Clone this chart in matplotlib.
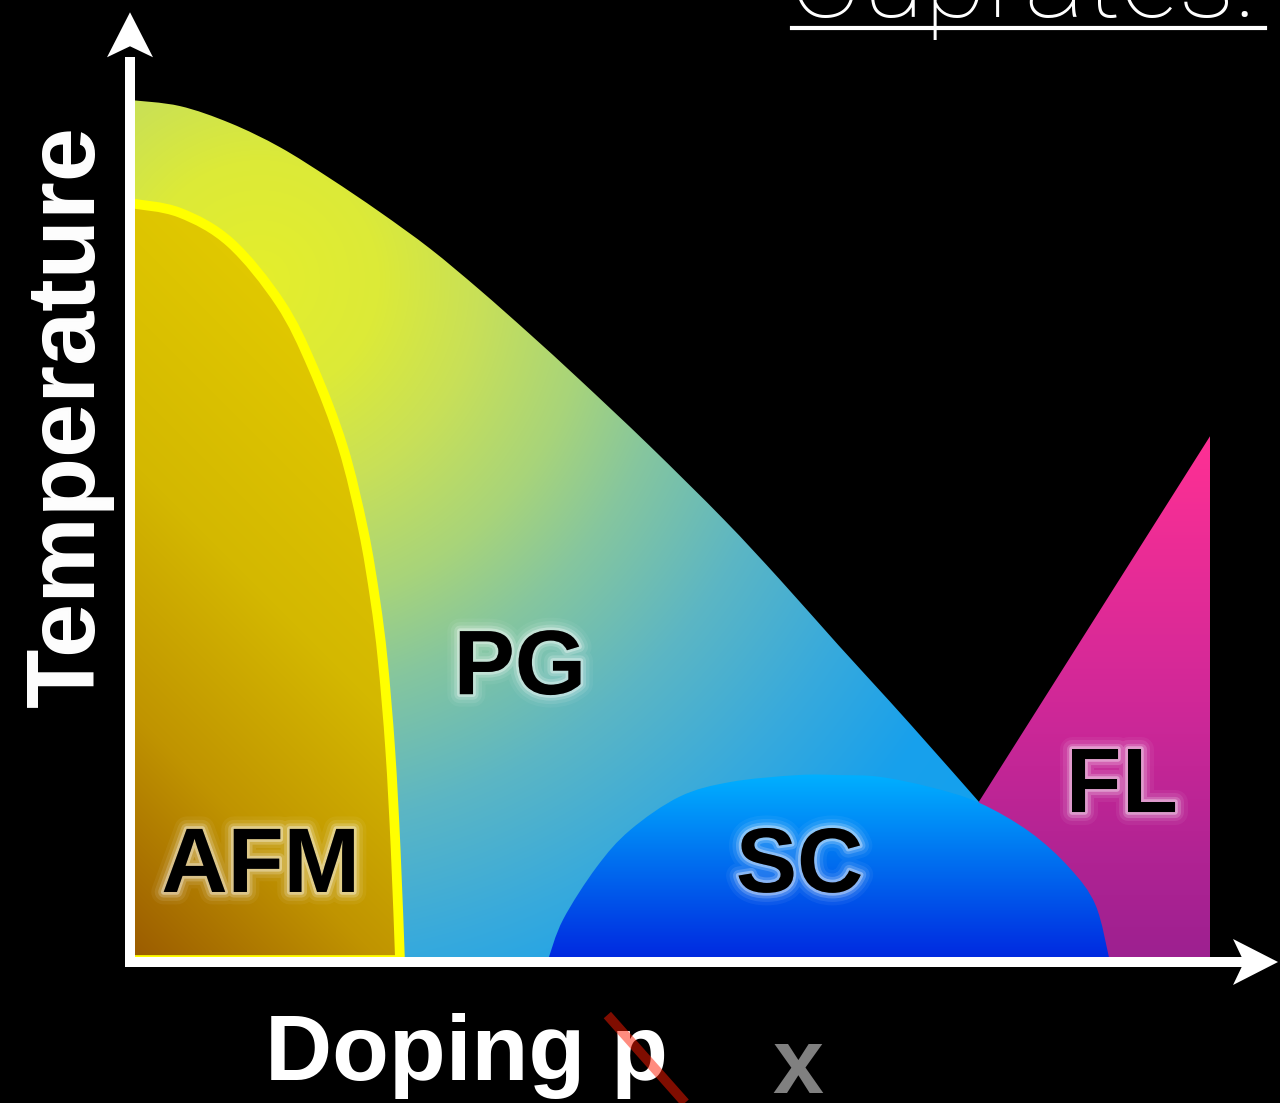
import numpy as np
import matplotlib
matplotlib.use("Agg")
import matplotlib.pyplot as plt
import matplotlib.patheffects as pe
from matplotlib.patches import Polygon, PathPatch
from matplotlib.path import Path
from matplotlib.colors import to_rgb

# --- phase boundaries (doping p, temperature T) ---
pg_p = [0.0, 0.046, 0.093, 0.139, 0.185, 0.231, 0.278, 0.324, 0.370, 0.417,
        0.481, 0.550, 0.602, 0.656, 0.704, 0.741, 0.786, 0.843, 0.898]
pg_t = [1.000, 0.993, 0.973, 0.945, 0.909, 0.870, 0.827, 0.779, 0.728, 0.674,
        0.598, 0.512, 0.442, 0.366, 0.300, 0.248, 0.184, 0.102, 0.0]

afm_p = [0.0, 0.046, 0.093, 0.139, 0.169, 0.197, 0.216, 0.227, 0.234, 0.241, 0.246, 0.250]
afm_t = [0.880, 0.869, 0.834, 0.764, 0.690, 0.597, 0.500, 0.419, 0.349, 0.244, 0.128, 0.0]

sc_p = [0.387, 0.401, 0.432, 0.463, 0.509, 0.556, 0.618, 0.657, 0.694, 0.741,
        0.786, 0.833, 0.870, 0.894, 0.907]
sc_t = [0.0, 0.047, 0.108, 0.151, 0.190, 0.207, 0.215, 0.215, 0.213, 0.201,
        0.183, 0.149, 0.107, 0.064, 0.0]

fl_p = [0.786, 1.0, 1.0, 0.786]
fl_t = [0.184, 0.609, 0.0, 0.0]

labels = ["AFM", "PG", "SC", "FL"]
label_p = [0.121, 0.361, 0.620, 0.918]
label_t = [0.107, 0.337, 0.107, 0.200]

# --- layout: 1 doping unit = 1080 px, 1 temperature unit = 860 px ---
PX_X, PX_Y = 1080.0, 860.0
X_LO, X_HI = -130 / PX_X, 1150 / PX_X
Y_LO, Y_HI = -143 / PX_Y, 960 / PX_Y
BG = "black"


def ramp(s, stops):
    """Map array s through (position, colour) stops -> RGB image."""
    pos = [a for a, _ in stops]
    cols = np.array([to_rgb(c) for _, c in stops])
    return np.dstack([np.interp(s, pos, cols[:, k]) for k in range(3)])


def smooth_region(p, t, corners):
    """Closed path: smooth (Bezier) curve through boundary points, then straight to corners."""
    pts = np.column_stack([p, t])
    ext = np.vstack([pts[0], pts, pts[-1]])
    verts = [tuple(pts[0])]
    codes = [Path.MOVETO]
    for i in range(len(pts) - 1):
        p0, p1, p2, p3 = ext[i], ext[i + 1], ext[i + 2], ext[i + 3]
        verts += [tuple(p1 + (p2 - p0) / 6), tuple(p2 - (p3 - p1) / 6), tuple(p2)]
        codes += [Path.CURVE4] * 3
    for c in corners:
        verts.append(c)
        codes.append(Path.LINETO)
    verts.append(verts[0])
    codes.append(Path.CLOSEPOLY)
    return Path(verts, codes)


def gradient_fill(ax, path, img, z, edge=None, lw=0):
    patch = PathPatch(path, facecolor="none", edgecolor=edge if edge else "none",
                      linewidth=lw, zorder=z + 0.1, joinstyle="round")
    ax.add_patch(patch)
    im = ax.imshow(img, extent=[X_LO, X_HI, Y_LO, Y_HI], origin="lower",
                   aspect="auto", interpolation="bilinear", zorder=z)
    im.set_clip_path(patch)


fig = plt.figure(figsize=(12.8, 11.03), dpi=100)
fig.patch.set_facecolor(BG)
ax = fig.add_axes([0, 0, 1, 1])
ax.set_facecolor(BG)

gx = np.linspace(X_LO, X_HI, 1280)
gy = np.linspace(Y_LO, Y_HI, 1103)
P, T = np.meshgrid(gx, gy)

# pseudogap: radial glow from the upper-left
dist = np.hypot((P - 0.120) * PX_X, (T - 0.791) * PX_Y)
pg_img = ramp(dist, [(0, "#e4ee2c"), (120, "#dcea38"), (220, "#c8e058"),
                     (330, "#a8d47a"), (420, "#86c69e"), (550, "#5cb6c4"),
                     (680, "#38aadc"), (800, "#18a0ec"), (1000, "#10a0f0")])
gradient_fill(ax, smooth_region(pg_p, pg_t, [(0.0, 0.0)]), pg_img, 1)

# antiferromagnet: diagonal brown -> gold, yellow outline
s = P * PX_X + T * PX_Y
afm_img = ramp(s, [(0, "#9a5a00"), (250, "#c09400"), (500, "#d4b800"), (800, "#e0c800")])
gradient_fill(ax, smooth_region(afm_p, afm_t, [(0.0, 0.0)]), afm_img, 2,
              edge="#ffff00", lw=7)

# Fermi liquid wedge
fl_img = ramp(T, [(0.0, "#9c2090"), (0.30, "#d02898"), (0.61, "#ff3094")])
fl_patch = Polygon(np.column_stack([fl_p, fl_t]), closed=True, facecolor="none",
                   edgecolor="none", zorder=1.6)
ax.add_patch(fl_patch)
im = ax.imshow(fl_img, extent=[X_LO, X_HI, Y_LO, Y_HI], origin="lower",
               aspect="auto", interpolation="bilinear", zorder=1.5)
im.set_clip_path(fl_patch)

# superconducting dome
sc_img = ramp(T, [(0.0, "#0028e0"), (0.116, "#0070f0"), (0.215, "#00b0ff")])
gradient_fill(ax, smooth_region(sc_p, sc_t, []), sc_img, 3)

glow = [pe.Stroke(linewidth=18, foreground="white", alpha=0.05),
        pe.Stroke(linewidth=13, foreground="white", alpha=0.09),
        pe.Stroke(linewidth=8, foreground="white", alpha=0.18),
        pe.Stroke(linewidth=4, foreground="white", alpha=0.35),
        pe.Normal()]
for name, lp, lt in zip(labels, label_p, label_t):
    ax.text(lp, lt, name, fontsize=66, fontweight="bold", color="black",
            family="Liberation Sans", ha="center", va="center",
            path_effects=glow, zorder=5)

# axes arrows (white)
lw_axis = 10 * 0.72
ax.plot([0.0, 0.0], [-5 / PX_Y, 1.05], color="white", lw=lw_axis,
        solid_capstyle="butt", zorder=6)
ax.plot([-5 / PX_X, 1.035], [-2 / PX_Y, -2 / PX_Y], color="white", lw=lw_axis,
        solid_capstyle="butt", zorder=6)
y_tip = 1.102
ax.add_patch(Polygon([(0, y_tip), (-23 / PX_X, y_tip - 45 / PX_Y),
                      (0, y_tip - 34 / PX_Y), (23 / PX_X, y_tip - 45 / PX_Y)],
                     closed=True, facecolor="white", edgecolor="none", zorder=6))
x_tip = 1.063
yc = -2 / PX_Y
ax.add_patch(Polygon([(x_tip, yc), (x_tip - 45 / PX_X, yc + 23 / PX_Y),
                      (x_tip - 34 / PX_X, yc), (x_tip - 45 / PX_X, yc - 23 / PX_Y)],
                     closed=True, facecolor="white", edgecolor="none", zorder=6))

# axis titles
ax.text(-0.057, 0.632, "Temperature", rotation=90, fontsize=70, fontweight="bold",
        color="white", family="Liberation Sans", ha="center", va="center", zorder=6)
ax.text(0.125, -0.140, "Doping p", fontsize=67, fontweight="bold", color="white",
        family="Liberation Sans", ha="left", va="baseline", zorder=6)
ax.text(0.618, -0.155, "x", fontsize=66, fontweight="bold", color="#808080",
        family="Liberation Sans", ha="center", va="baseline", zorder=6)
ax.plot([0.442, 0.514], [-0.064, -0.166], color="#ff1a00", alpha=0.5, lw=7,
        solid_capstyle="butt", zorder=7)

# title, cut off at the top edge
ax.text(1.042, 1.097, "Cuprates:", fontsize=82, fontweight="light", color="white",
        family="Roboto", ha="right", va="baseline", zorder=6)
ax.plot([0.613, 1.051], [1.084, 1.084], color="white", lw=3, zorder=6)

ax.set_xlim(X_LO, X_HI)
ax.set_ylim(Y_LO, Y_HI)
ax.axis("off")

fig.savefig("out.png", dpi=100, facecolor=BG)
plt.close(fig)
